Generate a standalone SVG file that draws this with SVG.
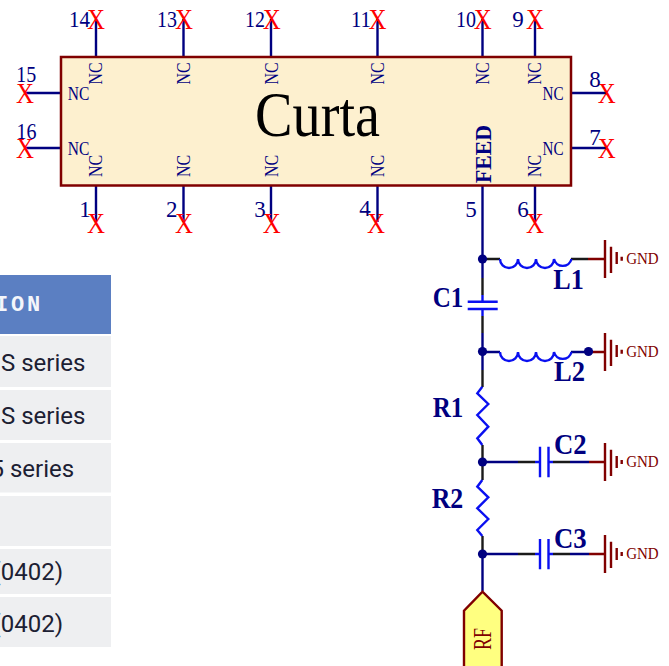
<svg xmlns="http://www.w3.org/2000/svg" width="669" height="666" viewBox="0 0 669 666">
<style>
.w{stroke:#000080;stroke-width:2.4;fill:none}
.k{stroke:#1a1a1a;stroke-width:2.4;fill:none}
.b{stroke:#0a10f0;stroke-width:2.4;fill:none}
.r{stroke:#800000;stroke-width:2.4;fill:none}
.x{font:30px "Liberation Serif",serif;fill:#ff0000;text-anchor:middle}
.n{font:23px "Liberation Serif",serif;fill:#000080;text-anchor:middle}
.c{font:18px "Liberation Serif",serif;fill:#000080;text-anchor:middle}
.d{font:bold 29px "Liberation Serif",serif;fill:#000080;text-anchor:middle}
.g{font:16.500px "Liberation Serif",serif;fill:#800000}
.t{font:24px Roboto,sans-serif;fill:#1c2033}
.row{fill:#eeeff1}
.j{fill:#000080}
</style>
<rect width="669" height="666" fill="#fff"/>
<g id="table">
<rect x="0" y="275" width="111" height="59" fill="#5b7fc2"/>
<text x="-5" y="310.500" style="font:bold 22px 'Liberation Mono','DejaVu Sans Mono',monospace;letter-spacing:2.800px" fill="#f4f6fb">ION</text>
<rect class="row" y="336" width="111" height="51"/><rect class="row" y="390" width="111" height="50"/><rect class="row" y="443" width="111" height="49.500"/><rect class="row" y="496" width="111" height="50"/><rect class="row" y="549" width="111" height="45"/><rect class="row" y="597" width="111" height="50"/>
<text class="t" x="1" y="371">S series</text><text class="t" x="1" y="424">S series</text><text class="t" x="-9.500" y="477">5 series</text>
<text class="t" x="-7.500" y="580">(0402)</text><text class="t" x="-7.500" y="631.500">(0402)</text>
</g>
<g id="connectors">
<path class="w" d="M96 57V19M183.500 57V19M271 57V19M377.500 57V19M482.500 57V19M535 57V19M96 186V222M183.500 186V222M271 186V222M377.500 186V222M535 186V222M61 93H25M61 148H25M571 93H607M571 148H607"/>
<path class="w" d="M482.500 186V278"/>
<path class="k" d="M482.500 278V295M482.500 316V333M482.500 370V387M482.500 445V480M482.500 536V554M482.500 259H500"/>
<path class="w" d="M482.500 333V370M482.500 352H500M482.500 462H518M482.500 554H518M482.500 554V591M571 352H588"/>
<path class="k" d="M518 462H535M518 554H535M553 462H570M553 554H570M571 259H588"/>
<path class="w" d="M570 462H589M570 554H589"/>
<path class="r" d="M588 259H605M588 352H605M589 462H605M589 554H605"/>
</g>
<g id="U1">
<rect x="61" y="57" width="510" height="128.500" fill="#fdf0cf" stroke="#800000" stroke-width="2.500"/>
<text x="317.500" y="136" style="font:64px 'Liberation Serif',serif" text-anchor="middle" fill="#000" textLength="125" lengthAdjust="spacingAndGlyphs">Curta</text>
<g class="labels">
<text class="c" transform="translate(102 73.500) rotate(-90)" textLength="22" lengthAdjust="spacingAndGlyphs">NC</text><text class="c" transform="translate(190 73.500) rotate(-90)" textLength="22" lengthAdjust="spacingAndGlyphs">NC</text><text class="c" transform="translate(277.500 73.500) rotate(-90)" textLength="22" lengthAdjust="spacingAndGlyphs">NC</text><text class="c" transform="translate(383.500 73.500) rotate(-90)" textLength="22" lengthAdjust="spacingAndGlyphs">NC</text><text class="c" transform="translate(488.500 73.500) rotate(-90)" textLength="22" lengthAdjust="spacingAndGlyphs">NC</text><text class="c" transform="translate(541 73.500) rotate(-90)" textLength="22" lengthAdjust="spacingAndGlyphs">NC</text>
<text class="c" transform="translate(102 166) rotate(-90)" textLength="22" lengthAdjust="spacingAndGlyphs">NC</text><text class="c" transform="translate(190 166) rotate(-90)" textLength="22" lengthAdjust="spacingAndGlyphs">NC</text><text class="c" transform="translate(277.500 166) rotate(-90)" textLength="22" lengthAdjust="spacingAndGlyphs">NC</text><text class="c" transform="translate(383.500 166) rotate(-90)" textLength="22" lengthAdjust="spacingAndGlyphs">NC</text><text class="c" transform="translate(541 166) rotate(-90)" textLength="22" lengthAdjust="spacingAndGlyphs">NC</text>
<text class="c" x="78.500" y="100" textLength="21.500" lengthAdjust="spacingAndGlyphs">NC</text><text class="c" x="78.500" y="155" textLength="21.500" lengthAdjust="spacingAndGlyphs">NC</text><text class="c" x="553" y="100" textLength="21" lengthAdjust="spacingAndGlyphs">NC</text><text class="c" x="553" y="155" textLength="21" lengthAdjust="spacingAndGlyphs">NC</text>
<text transform="translate(490.500 154) rotate(-90)" text-anchor="middle" style="font:bold 23px 'Liberation Serif',serif" fill="#000080" textLength="58" lengthAdjust="spacingAndGlyphs">FEED</text>
<text class="n" x="79.500" y="26.700" textLength="21" lengthAdjust="spacingAndGlyphs">14</text><text class="n" x="167" y="26.700" textLength="20" lengthAdjust="spacingAndGlyphs">13</text><text class="n" x="255" y="26.700" textLength="20" lengthAdjust="spacingAndGlyphs">12</text><text class="n" x="361" y="26.700" textLength="20" lengthAdjust="spacingAndGlyphs">11</text><text class="n" x="466" y="26.700" textLength="20" lengthAdjust="spacingAndGlyphs">10</text><text class="n" x="518" y="26.700">9</text>
<text class="n" x="26.300" y="82.300" textLength="20" lengthAdjust="spacingAndGlyphs">15</text><text class="n" x="26.500" y="139" textLength="20" lengthAdjust="spacingAndGlyphs">16</text><text class="n" x="595" y="87.300">8</text><text class="n" x="595" y="145">7</text>
<text class="n" x="85" y="216.700">1</text><text class="n" x="171.700" y="216.700">2</text><text class="n" x="260" y="216.700">3</text><text class="n" x="365" y="216">4</text><text class="n" x="471" y="216.700">5</text><text class="n" x="523" y="216.700">6</text>
</g>
</g>
<g id="noconnects">
<text class="x" x="96" y="29.300" textLength="18" lengthAdjust="spacingAndGlyphs">X</text><text class="x" x="184" y="29.300" textLength="18" lengthAdjust="spacingAndGlyphs">X</text><text class="x" x="271.700" y="29.300" textLength="18" lengthAdjust="spacingAndGlyphs">X</text><text class="x" x="377.500" y="29.300" textLength="18" lengthAdjust="spacingAndGlyphs">X</text><text class="x" x="482.800" y="29.300" textLength="18" lengthAdjust="spacingAndGlyphs">X</text><text class="x" x="535" y="29.300" textLength="18" lengthAdjust="spacingAndGlyphs">X</text>
<text class="x" x="25" y="103" textLength="18" lengthAdjust="spacingAndGlyphs">X</text><text class="x" x="25" y="158" textLength="18" lengthAdjust="spacingAndGlyphs">X</text><text class="x" x="606.700" y="103" textLength="18" lengthAdjust="spacingAndGlyphs">X</text><text class="x" x="606.700" y="158" textLength="18" lengthAdjust="spacingAndGlyphs">X</text>
<text class="x" x="96" y="232.700" textLength="18" lengthAdjust="spacingAndGlyphs">X</text><text class="x" x="184" y="232.700" textLength="18" lengthAdjust="spacingAndGlyphs">X</text><text class="x" x="271.700" y="232.700" textLength="18" lengthAdjust="spacingAndGlyphs">X</text><text class="x" x="376" y="232.700" textLength="18" lengthAdjust="spacingAndGlyphs">X</text><text class="x" x="535" y="232.700" textLength="18" lengthAdjust="spacingAndGlyphs">X</text>
</g>
<g id="L1"><path class="b" d="M500 259a9 9 0 0 0 18 0a9 9 0 0 0 18 0a9 9 0 0 0 18 0a9 9 0 0 0 17.500 0"/><text class="d" x="568.500" y="289.300" textLength="30.500" lengthAdjust="spacingAndGlyphs">L1</text></g>
<g id="L2"><path class="b" d="M500 352a9 9 0 0 0 18 0a9 9 0 0 0 18 0a9 9 0 0 0 18 0a9 9 0 0 0 17.500 0"/><text class="d" x="569.500" y="381.200" textLength="31" lengthAdjust="spacingAndGlyphs">L2</text></g>
<g id="C1"><path class="b" d="M482.500 295V301.700M467.700 301.700H497.700M467.700 309H497.700M482.500 309V316"/><text class="d" x="448" y="307.300" textLength="30.600" lengthAdjust="spacingAndGlyphs">C1</text></g>
<g id="R1"><path class="b" d="M482.300 386.700L477.300 393.300L488.300 404L477.300 415L488.300 426.700L477.300 438.300L482.300 445"/><text class="d" x="448" y="416.700" textLength="30.600" lengthAdjust="spacingAndGlyphs">R1</text></g>
<g id="R2"><path class="b" d="M482.300 480L477.300 486.700L488.300 497.300L477.300 508.300L488.300 519L477.300 530L482.300 536"/><text class="d" x="447.500" y="508.300" textLength="31.600" lengthAdjust="spacingAndGlyphs">R2</text></g>
<g id="C2"><path class="b" d="M535 462H540M540 446.700V477.300M548.500 446.700V477.300M548.500 462H553"/><text class="d" x="570.300" y="454" textLength="32.700" lengthAdjust="spacingAndGlyphs">C2</text></g>
<g id="C3"><path class="b" d="M535 554H540M540 539V569.300M548.500 539V569.300M548.500 554H553"/><text class="d" x="570.300" y="547.700" textLength="32.700" lengthAdjust="spacingAndGlyphs">C3</text></g>
<g id="junctions">
<circle class="j" cx="482.500" cy="259" r="4.600"/><circle class="j" cx="482.500" cy="351.500" r="4.600"/><circle class="j" cx="482.500" cy="462" r="4.600"/><circle class="j" cx="482.500" cy="554" r="4.600"/><circle class="j" cx="588.500" cy="351.500" r="4.600"/>
</g>
<g id="gnd1"><path class="r" d="M605 240V278M611 246.700V273M616.700 252V264M621.700 256.700V260.700"/><text class="g" x="626.200" y="263.500" textLength="32.500" lengthAdjust="spacingAndGlyphs">GND</text></g>
<g id="gnd2"><path class="r" d="M605 333V371M611 339.700V366M616.700 345V357M621.700 349.700V353.700"/><text class="g" x="626.200" y="356.500" textLength="32.500" lengthAdjust="spacingAndGlyphs">GND</text></g>
<g id="gnd3"><path class="r" d="M605 443V481M611 449.700V476M616.700 456V468M621.700 460V464"/><text class="g" x="626.200" y="466.500" textLength="32.500" lengthAdjust="spacingAndGlyphs">GND</text></g>
<g id="gnd4"><path class="r" d="M605 535V573M611 541.700V568M616.700 548V560M621.700 552V556"/><text class="g" x="626.200" y="558.500" textLength="32.500" lengthAdjust="spacingAndGlyphs">GND</text></g>
<g id="RF"><path d="M464 668V610.700L482.500 591.700L501.700 610.700V668Z" fill="#ffff80" stroke="#800000" stroke-width="2.400"/><text transform="translate(491 639) rotate(-90)" text-anchor="middle" style="font:25px 'Liberation Serif',serif" fill="#800000" textLength="22" lengthAdjust="spacingAndGlyphs">RF</text></g>
</svg>
